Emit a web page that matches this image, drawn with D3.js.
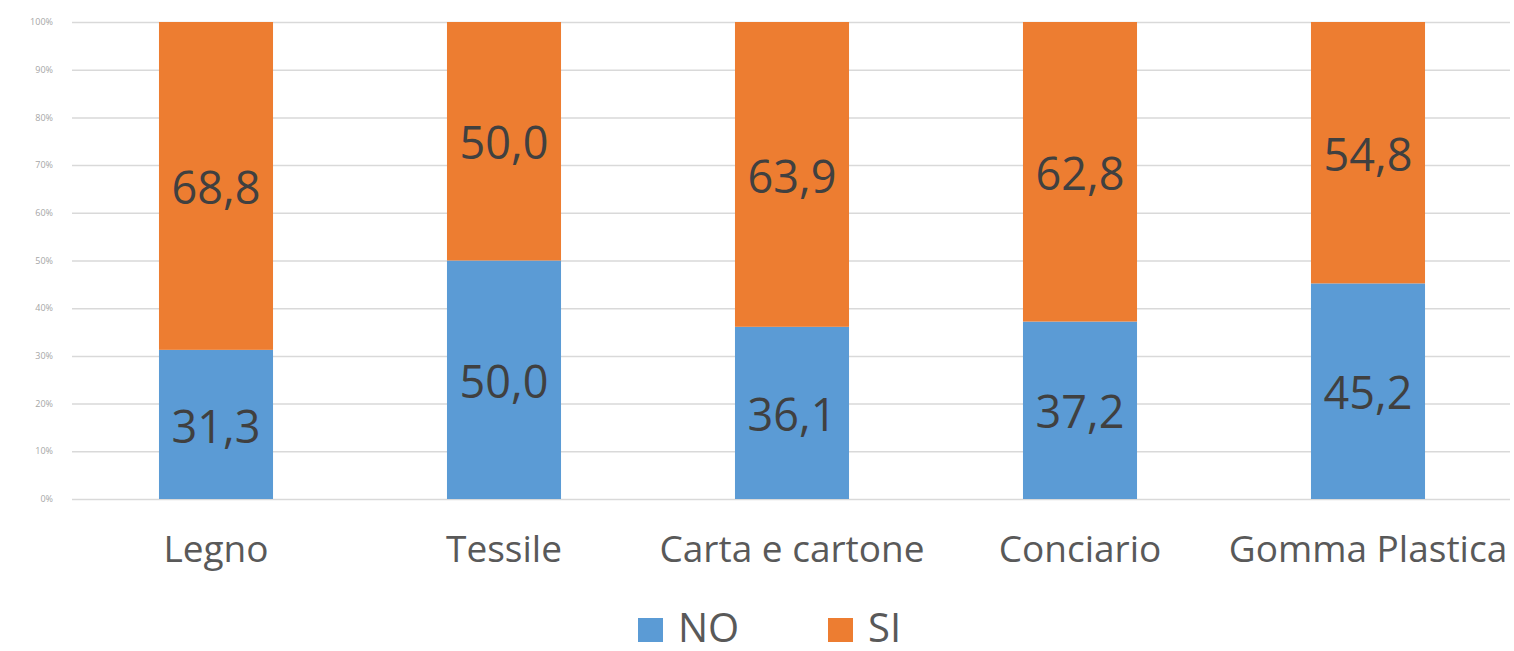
<!DOCTYPE html>
<html>
<head>
  <meta charset="utf-8">
  <title>NO / SI per settore</title>
  <style>
    body {margin:0; background:#fff;}
    svg text {font-family: "Open Sans", sans-serif;}
    .grid line {stroke:#d9d9d9; stroke-width:1.5;}
    .grid path {display:none;}
    .ytick text {fill:#a6a6a6; font-size:9px;}
    .cat {fill:#595959; font-size:37px; text-anchor:middle;}
    .val {fill:#404040; font-size:45px; text-anchor:middle;}
    .leg {fill:#595959; font-size:40px;}
  </style>
</head>
<body>
<script src="https://cdn.jsdelivr.net/npm/d3@7"></script>
<script>
  var categories = ['Legno', 'Tessile', 'Carta e cartone', 'Conciario', 'Gomma Plastica'];
  var seriesNames = ['NO', 'SI'];
  var noValues = [31.3, 50.0, 36.1, 37.2, 45.2];
  var siValues = [68.8, 50.0, 63.9, 62.8, 54.8];
  var yTicks = [0, 10, 20, 30, 40, 50, 60, 70, 80, 90, 100];
  var colors = ['#5b9bd5', '#ed7d31'];

  var width = 1514,
      height = 651,
      plot_left = 72,
      plot_right = 1512,
      plot_top = 22,
      plot_bottom = 499;

  var svg = d3.select('body')
    .append('svg')
    .attr('width', width)
    .attr('height', height);

  var x = d3.scaleBand()
    .domain(categories)
    .range([plot_left, plot_right])
    .paddingInner(0.604)
    .paddingOuter(0.302);

  var y = d3.scaleLinear()
    .domain([0, 100])
    .range([plot_bottom, plot_top]);

  // gridlines
  svg.append('g')
    .attr('class', 'grid')
    .attr('transform', 'translate(' + plot_left + ',0)')
    .call(d3.axisLeft(y).tickValues(yTicks).tickSize(-(1510 - plot_left)).tickFormat(''))
    .call(function(g){ g.selectAll('text').remove(); });

  // y tick labels
  svg.append('g')
    .attr('class', 'ytick')
    .selectAll('text')
    .data(yTicks)
    .enter().append('text')
    .attr('x', 53)
    .attr('y', function(d){ return y(d); })
    .attr('dy', '0.35em')
    .attr('text-anchor', 'end')
    .text(function(d){ return d + '%'; });

  var rows = categories.map(function(c, i){
    return {cat: c, NO: noValues[i], SI: siValues[i]};
  });
  var stack = d3.stack().keys(seriesNames)
    .offset(d3.stackOffsetExpand)(rows);

  var layer = svg.selectAll('g.layer')
    .data(stack)
    .enter().append('g')
    .attr('class', 'layer')
    .attr('fill', function(d, i){ return colors[i]; });

  layer.selectAll('rect')
    .data(function(d){ return d; })
    .enter().append('rect')
    .attr('x', function(d){ return x(d.data.cat); })
    .attr('width', x.bandwidth())
    .attr('y', function(d){ return y(d[1] * 100); })
    .attr('height', function(d){ return y(d[0] * 100) - y(d[1] * 100); });

  // value labels
  stack.forEach(function(s){
    svg.append('g').selectAll('text')
      .data(s)
      .enter().append('text')
      .attr('class', 'val')
      .attr('x', function(d){ return x(d.data.cat) + x.bandwidth() / 2; })
      .attr('y', function(d){ return y((d[0] + d[1]) * 50) + 2; })
      .attr('dy', '0.36em')
      .text(function(d){ return d3.format('.1f')(d.data[s.key]).replace('.', ','); });
  });

  // category labels
  svg.append('g').selectAll('text')
    .data(categories)
    .enter().append('text')
    .attr('class', 'cat')
    .attr('x', function(d){ return x(d) + x.bandwidth() / 2; })
    .attr('y', 562)
    .text(function(d){ return d; });

  // legend
  var legX = [638, 828];
  var leg = svg.append('g').selectAll('g')
    .data(seriesNames)
    .enter().append('g')
    .attr('transform', function(d, i){ return 'translate(' + legX[i] + ',618)'; });

  leg.append('rect')
    .attr('width', 25)
    .attr('height', 24)
    .attr('fill', function(d, i){ return colors[i]; });

  leg.append('text')
    .attr('class', 'leg')
    .attr('x', 40)
    .attr('y', 24)
    .text(function(d){ return d; });
</script>
</body>
</html>
